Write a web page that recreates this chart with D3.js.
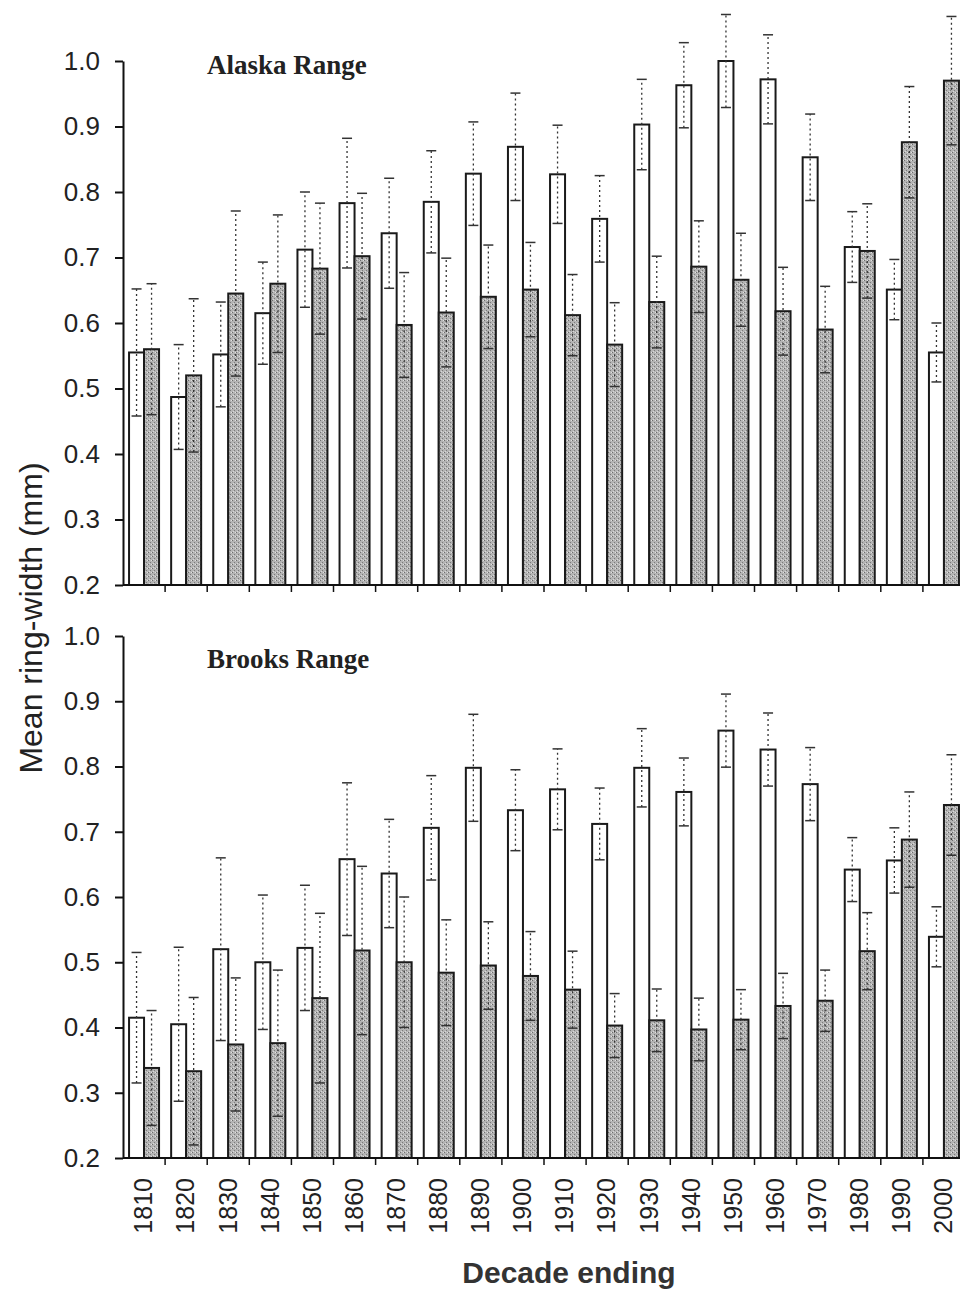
<!DOCTYPE html>
<html>
<head>
<meta charset="utf-8">
<script src="https://cdn.jsdelivr.net/npm/d3@7"></script>
<style>
  body { margin: 0; background: #fff; }
  svg { display: block; }
  .tick text { font-family: "Liberation Sans", Arial, sans-serif; fill: #222; }
</style>
</head>
<body>
<div id="chart"></div>
<script>
// Data
const decades = ["1810","1820","1830","1840","1850","1860","1870","1880","1890","1900",
                 "1910","1920","1930","1940","1950","1960","1970","1980","1990","2000"];
const yTicks = [0.2, 0.3, 0.4, 0.5, 0.6, 0.7, 0.8, 0.9, 1.0];

// Alaska Range
const alaskaLight    = [0.555,0.487,0.552,0.615,0.712,0.783,0.737,0.785,0.828,0.869,0.827,0.759,0.903,0.963,1.000,0.972,0.853,0.716,0.651,0.555];
const alaskaLightErr = [0.097,0.080,0.080,0.078,0.088,0.099,0.084,0.078,0.079,0.082,0.075,0.066,0.069,0.065,0.071,0.068,0.066,0.054,0.046,0.045];
const alaskaDark     = [0.560,0.520,0.645,0.660,0.683,0.702,0.597,0.616,0.640,0.651,0.612,0.567,0.632,0.686,0.666,0.618,0.590,0.710,0.876,0.970];
const alaskaDarkErr  = [0.100,0.117,0.126,0.105,0.100,0.096,0.080,0.083,0.079,0.072,0.062,0.064,0.070,0.070,0.071,0.067,0.066,0.072,0.085,0.098];

// Brooks Range
const brooksLight    = [0.415,0.405,0.520,0.500,0.522,0.658,0.636,0.706,0.798,0.733,0.765,0.712,0.798,0.761,0.855,0.826,0.773,0.642,0.656,0.539];
const brooksLightErr = [0.100,0.118,0.140,0.103,0.096,0.117,0.083,0.080,0.082,0.062,0.062,0.055,0.060,0.052,0.056,0.056,0.056,0.049,0.050,0.046];
const brooksDark     = [0.338,0.333,0.374,0.376,0.445,0.518,0.500,0.484,0.495,0.479,0.458,0.403,0.411,0.397,0.412,0.433,0.441,0.517,0.688,0.741];
const brooksDarkErr  = [0.088,0.113,0.102,0.112,0.130,0.129,0.100,0.081,0.067,0.068,0.059,0.049,0.048,0.048,0.046,0.050,0.047,0.059,0.073,0.077];

const panels = [
  { title: "Alaska Range", light: alaskaLight, lightErr: alaskaLightErr, dark: alaskaDark, darkErr: alaskaDarkErr, top: 61, bottom: 585, titleY: 74 },
  { title: "Brooks Range", light: brooksLight, lightErr: brooksLightErr, dark: brooksDark, darkErr: brooksDarkErr, top: 636, bottom: 1158, titleY: 668 }
];

const width = 960, height = 1292;
const x0 = 123, x1 = 965;

const svg = d3.select("#chart")
  .append("svg")
    .attr("width", width)
    .attr("height", height);

// stipple texture for the grey bars
const pat = svg.append("defs").append("pattern")
  .attr("id", "stipple")
  .attr("width", 4).attr("height", 4)
  .attr("patternUnits", "userSpaceOnUse");
pat.append("rect").attr("width", 4).attr("height", 4).attr("fill", "#b4b4b4");
pat.append("rect").attr("x", 0).attr("y", 0).attr("width", 1).attr("height", 1).attr("fill", "#6e6e6e");
pat.append("rect").attr("x", 2).attr("y", 2).attr("width", 1).attr("height", 1).attr("fill", "#7a7a7a");
pat.append("rect").attr("x", 3).attr("y", 0).attr("width", 1).attr("height", 1).attr("fill", "#e0e0e0");
pat.append("rect").attr("x", 1).attr("y", 3).attr("width", 1).attr("height", 1).attr("fill", "#d8d8d8");

// x scales: decade groups and the two bars within a group
const x = d3.scaleBand().domain(decades).range([x0, x1]).padding(0);
const pairW = 30;
const xs = d3.scaleBand().domain(["light", "dark"]).range([0, pairW]).padding(0);
const groupLeft = d => x(d) + (x.bandwidth() - pairW) / 2;

panels.forEach((p, pi) => {
  const y = d3.scaleLinear().domain([0.2, 1.0]).range([p.bottom, p.top]);
  const g = svg.append("g");

  // rows for both series
  const rows = [];
  decades.forEach((d, i) => {
    rows.push({ dec: d, s: "light", v: p.light[i], e: p.lightErr[i] });
    rows.push({ dec: d, s: "dark", v: p.dark[i], e: p.darkErr[i] });
  });

  // bars
  g.selectAll("rect.bar")
    .data(rows)
    .enter().append("rect")
      .attr("class", "bar")
      .attr("x", d => groupLeft(d.dec) + xs(d.s))
      .attr("width", xs.bandwidth())
      .attr("y", d => y(d.v))
      .attr("height", d => y(0.2) - y(d.v))
      .attr("fill", d => d.s === "light" ? "#fff" : "url(#stipple)")
      .attr("stroke", "#1a1a1a")
      .attr("stroke-width", 2);

  // error bars (dotted stem + caps)
  const cx = d => groupLeft(d.dec) + xs(d.s) + xs.bandwidth() / 2;
  g.selectAll("line.stem")
    .data(rows)
    .enter().append("line")
      .attr("x1", cx).attr("x2", cx)
      .attr("y1", d => y(d.v - d.e))
      .attr("y2", d => y(d.v + d.e))
      .attr("stroke", "#333")
      .attr("stroke-width", 1.3)
      .attr("stroke-dasharray", "2,3");
  ["hi", "lo"].forEach(k => {
    g.selectAll("line.cap" + k)
      .data(rows)
      .enter().append("line")
        .attr("x1", d => cx(d) - 5).attr("x2", d => cx(d) + 5)
        .attr("y1", d => y(k === "hi" ? d.v + d.e : d.v - d.e))
        .attr("y2", d => y(k === "hi" ? d.v + d.e : d.v - d.e))
        .attr("stroke", "#333")
        .attr("stroke-width", 1.5);
  });

  // Y axis
  const yAxis = g.append("g")
    .attr("transform", "translate(" + x0 + ",0)")
    .call(d3.axisLeft(y).tickValues(yTicks).tickFormat(d3.format(".1f")).tickSize(8).tickSizeOuter(0).tickPadding(15));
  yAxis.selectAll("text").style("font-size", "26px");
  yAxis.selectAll("line, path").attr("stroke", "#111").attr("stroke-width", 2);

  // X axis line + ticks at group boundaries
  g.append("line")
    .attr("x1", x0).attr("x2", width)
    .attr("y1", p.bottom).attr("y2", p.bottom)
    .attr("stroke", "#111").attr("stroke-width", 2);
  g.selectAll("line.xt")
    .data(decades.slice(1))
    .enter().append("line")
      .attr("x1", d => x(d)).attr("x2", d => x(d))
      .attr("y1", p.bottom).attr("y2", p.bottom + 7)
      .attr("stroke", "#111").attr("stroke-width", 1.5);

  // decade labels only under the lower panel
  if (pi === 1) {
    const xAxis = g.append("g")
      .attr("transform", "translate(0," + p.bottom + ")")
      .call(d3.axisBottom(x).tickSize(0));
    xAxis.select(".domain").remove();
    xAxis.selectAll("text")
      .attr("transform", "rotate(-90)")
      .attr("x", -20)
      .attr("y", 0)
      .attr("dy", "0.33em")
      .style("text-anchor", "end")
      .style("font-size", "25px");
  }

  // panel title
  g.append("text")
    .attr("x", 207)
    .attr("y", p.titleY)
    .style("font-family", "'Liberation Serif', 'Times New Roman', serif")
    .style("font-weight", "bold")
    .style("font-size", "27px")
    .style("fill", "#222")
    .text(p.title);
});

// Y-Axis label
svg.append("text")
  .attr("transform", "translate(42,618) rotate(-90)")
  .style("text-anchor", "middle")
  .style("font-family", "'Liberation Sans', Arial, sans-serif")
  .style("font-size", "32px")
  .style("fill", "#222")
  .text("Mean ring-width (mm)");

// X-Axis label
svg.append("text")
  .attr("x", 569)
  .attr("y", 1283)
  .style("text-anchor", "middle")
  .style("font-family", "'Liberation Sans', Arial, sans-serif")
  .style("font-weight", "bold")
  .style("font-size", "30px")
  .style("fill", "#333")
  .text("Decade ending");
</script>
</body>
</html>
